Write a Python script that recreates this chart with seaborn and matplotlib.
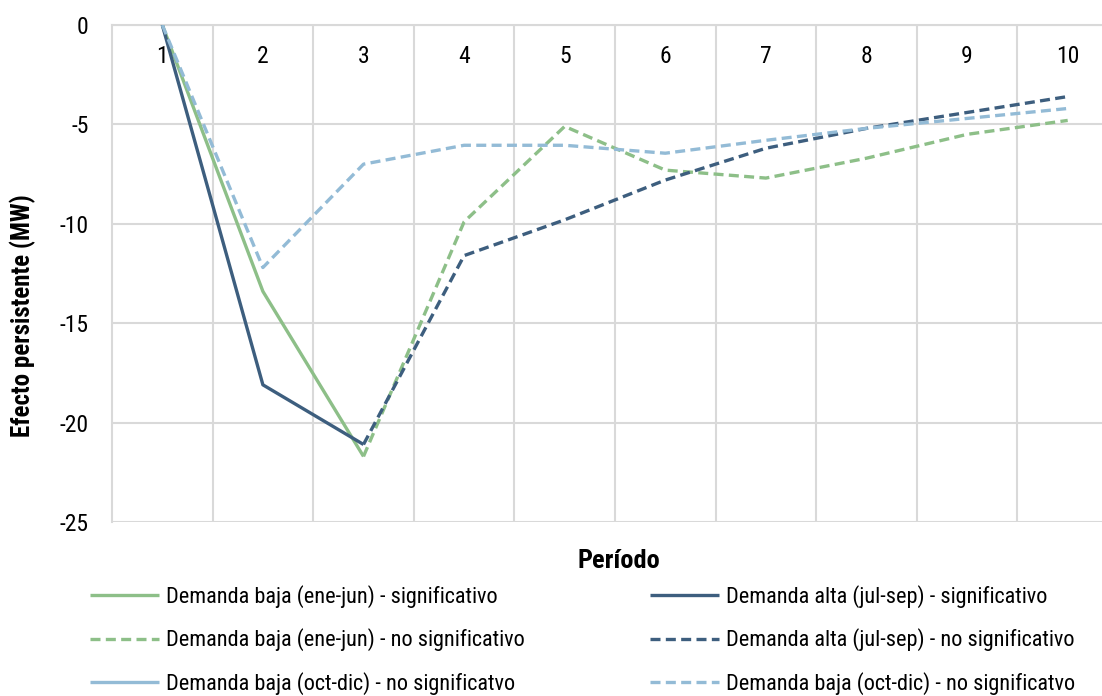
import numpy as np
import pandas as pd
import matplotlib
matplotlib.use("Agg")
import matplotlib.pyplot as plt
import seaborn as sns

# ---- data ----
periods = [1, 2, 3, 4, 5, 6, 7, 8, 9, 10]
baja_ene_jun_sig = [0.0, -13.4, -21.7, None, None, None, None, None, None, None]
baja_ene_jun_nosig = [None, None, -21.7, -9.9, -5.1, -7.3, -7.7, -6.7, -5.5, -4.8]
alta_jul_sep_sig = [0.0, -18.1, -21.1, None, None, None, None, None, None, None]
alta_jul_sep_nosig = [None, None, -21.1, -11.6, -9.8, -7.8, -6.2, -5.2, -4.4, -3.6]
baja_oct_dic_sig = [None] * 10
baja_oct_dic_nosig = [0.0, -12.2, -7.0, -6.05, -6.05, -6.45, -5.8, -5.2, -4.7, -4.2]
y_ticks = [0, -5, -10, -15, -20, -25]

labels = [
    "Demanda baja (ene-jun) - significativo",
    "Demanda baja (ene-jun) - no significativo",
    "Demanda baja (oct-dic) - no significatvo",
    "Demanda alta (jul-sep) - significativo",
    "Demanda alta (jul-sep) - no significativo",
    "Demanda baja (oct-dic) - no significatvo",
]
series = [baja_ene_jun_sig, baja_ene_jun_nosig, baja_oct_dic_sig,
          alta_jul_sep_sig, alta_jul_sep_nosig, baja_oct_dic_nosig]

GREEN = "#8dbf88"
DARK = "#3d5e7e"
LIGHT = "#93bbd6"
colors = [GREEN, GREEN, LIGHT, DARK, DARK, LIGHT]
dashed = [False, True, False, False, True, True]

sns.set_theme(style="white")
FONT = ['Roboto Condensed', 'DejaVu Sans']
plt.rcParams['font.family'] = FONT
plt.rcParams['text.color'] = '#000000'

fig = plt.figure(figsize=(11.02, 6.96), dpi=100)
ax = fig.add_axes([112 / 1102, (696 - 522) / 696, 1006 / 1102, 497 / 696])

handles = []
for lab, vals, c, d in zip(labels, series, colors, dashed):
    df = pd.DataFrame({"x": periods, "y": [np.nan if v is None else v for v in vals]})
    df = df.dropna()
    if len(df):
        sns.lineplot(data=df, x="x", y="y", ax=ax, color=c, lw=2.4, sort=False,
                     estimator=None, legend=False)
        ln = ax.lines[-1]
    else:
        ln, = ax.plot([], [], color=c, lw=2.4)
    if d:
        ln.set_dashes([3.0, 1.6])
    ln.set_solid_capstyle("butt")
    handles.append(ln)

ax.set_xlim(0.5, 10.5)
ax.set_ylim(-25, 0)
ax.set_yticks(y_ticks)
ax.set_yticklabels([str(v) for v in y_ticks])
ax.set_xlabel("")
ax.set_ylabel("")

ax.set_xticks(np.arange(1.5, 10.5, 1.0), minor=True)
ax.set_xticks(periods)
ax.set_xticklabels([str(p) for p in periods])
ax.grid(False)
ax.grid(axis="x", which="minor", color="#d9d9d9", lw=1.5)
ax.grid(axis="y", which="major", color="#d9d9d9", lw=1.5)
for lnn in ax.get_lines():
    lnn.set_zorder(3)

for s in ["right", "bottom"]:
    ax.spines[s].set_visible(False)
for s in ["top", "left"]:
    ax.spines[s].set_color("#d9d9d9")
    ax.spines[s].set_linewidth(1.5)

ax.tick_params(axis="x", which="both", bottom=False, top=False, labelbottom=False,
               labeltop=True, pad=-37, labelsize=17, labelcolor="#000000")
ax.tick_params(axis="y", left=False, labelsize=17, pad=11, labelcolor="#000000")

fig.text(23 / 1102, 1 - 316 / 696, "Efecto persistente (MW)", rotation=90,
         ha="center", va="center", fontsize=18, fontweight="bold", color="#000000")
fig.text(619 / 1102, 1 - 568 / 696, "Período", ha="center", va="baseline",
         fontsize=19, fontweight="bold", color="#000000")

leg_kw = dict(frameon=False, fontsize=16, handlelength=3.1, handletextpad=0.3,
              labelspacing=0.92, borderaxespad=0, borderpad=0, labelcolor="#000000")
l1 = fig.legend(handles[:3], labels[:3], loc="upper left",
                bbox_to_anchor=(90 / 1102, 1 - 585 / 696), **leg_kw)
l2 = fig.legend(handles[3:], labels[3:], loc="upper left",
                bbox_to_anchor=(650 / 1102, 1 - 585 / 696), **leg_kw)

fig.savefig("out.png", dpi=100)
